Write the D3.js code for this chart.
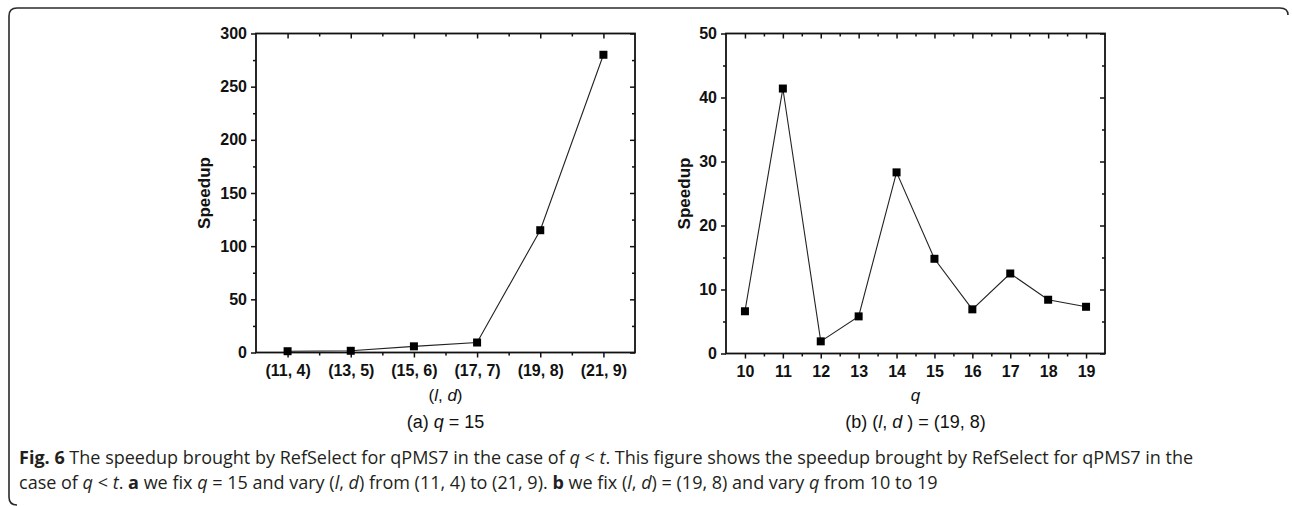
<!DOCTYPE html>
<html lang="en">
<head>
<meta charset="utf-8">
<title>Speedup brought by RefSelect</title>
<script src="https://cdn.jsdelivr.net/npm/d3@7"></script>
<style>
  body { margin: 0; background: #fff; }
  svg text { font-family: "Liberation Sans", Arial, sans-serif; fill: #111; }
  .tick text { font-weight: bold; font-size: 16px; }
  .caption text, text.caption { font-family: "Open Sans", "Noto Sans", sans-serif; fill: #231f20; }
</style>
</head>
<body>
<svg width="1292" height="506"></svg>
<script>
// panel (a): q = 15, vary (l, d)
var labelsA = ["(11, 4)", "(13, 5)", "(15, 6)", "(17, 7)", "(19, 8)", "(21, 9)"];
var speedupA = [1.2, 1.6, 5.8, 9.4, 115, 280];
var yTicksA = [0, 50, 100, 150, 200, 250, 300];

// panel (b): (l, d) = (19, 8), vary q
var qB = [10, 11, 12, 13, 14, 15, 16, 17, 18, 19];
var speedupB = [6.6, 41.4, 1.9, 5.8, 28.3, 14.8, 6.9, 12.5, 8.4, 7.3];
var yTicksB = [0, 10, 20, 30, 40, 50];

var svg = d3.select("svg");

// frame around figure
svg.append("path")
  .attr("d", "M1288,15 Q1288,8 1280,8 L17,8 Q9,8 9,16 L9,497 Q9,505 17,505")
  .attr("fill", "none").attr("stroke", "#2a2a2a").attr("stroke-width", 1.6);

function panel(o) {
  var g = svg.append("g");
  var x = d3.scaleLinear().domain(o.xDomain).range([o.left, o.right]);
  var y = d3.scaleLinear().domain([0, o.yMax]).range([o.bottom, o.top]);
  var minorX = d3.range(o.xDomain[0] + 1, o.xDomain[1], 1);
  var minorY = d3.range(o.yStep / 2, o.yMax, o.yStep);

  // bottom axis
  g.append("g").attr("transform", "translate(0," + o.bottom + ")")
    .call(d3.axisBottom(x).tickValues(o.xVals).tickFormat(function(d, i) { return o.xLabels[i]; })
      .tickSize(5).tickPadding(7));
  g.append("g").attr("transform", "translate(0," + o.bottom + ")")
    .call(d3.axisBottom(x).tickValues(minorX).tickFormat("").tickSize(3));
  // top axis (inward)
  g.append("g").attr("transform", "translate(0," + o.top + ")")
    .call(d3.axisBottom(x).tickValues(o.xVals).tickFormat("").tickSize(5));
  g.append("g").attr("transform", "translate(0," + o.top + ")")
    .call(d3.axisBottom(x).tickValues(minorX).tickFormat("").tickSize(3));
  // left axis
  g.append("g").attr("transform", "translate(" + o.left + ",0)")
    .call(d3.axisLeft(y).tickValues(o.yTicks).tickSize(5).tickPadding(4));
  g.append("g").attr("transform", "translate(" + o.left + ",0)")
    .call(d3.axisLeft(y).tickValues(minorY).tickFormat("").tickSize(3));
  // right axis (inward)
  g.append("g").attr("transform", "translate(" + o.right + ",0)")
    .call(d3.axisLeft(y).tickValues(o.yTicks).tickFormat("").tickSize(5));
  g.append("g").attr("transform", "translate(" + o.right + ",0)")
    .call(d3.axisLeft(y).tickValues(minorY).tickFormat("").tickSize(3));

  g.selectAll(".domain").remove();
  g.selectAll(".tick line").attr("stroke", "#111").attr("stroke-width", 1.5);
  g.selectAll(".tick text").attr("fill", "#111");

  g.append("rect")
    .attr("x", o.left).attr("y", o.top)
    .attr("width", o.right - o.left).attr("height", o.bottom - o.top)
    .attr("fill", "none").attr("stroke", "#111").attr("stroke-width", 1.8);

  var line = d3.line().x(function(d, i) { return x(o.xVals[i]); }).y(function(d) { return y(d); });
  g.append("path").datum(o.values)
    .attr("d", line).attr("fill", "none").attr("stroke", "#222").attr("stroke-width", 1.1);

  g.selectAll("rect.pt").data(o.values).enter().append("rect")
    .attr("class", "pt")
    .attr("x", function(d, i) { return x(o.xVals[i]) - 4; })
    .attr("y", function(d) { return y(d) - 4; })
    .attr("width", 8).attr("height", 8).attr("fill", "#000");

  // y label
  g.append("text")
    .attr("transform", "translate(" + o.yLabelX + "," + (o.top + o.bottom) / 2 + ") rotate(-90)")
    .attr("text-anchor", "middle").attr("font-weight", "bold").attr("font-size", 17)
    .text("Speedup");

  var cx = (o.left + o.right) / 2;
  var xt = g.append("text").attr("x", cx).attr("y", 401)
    .attr("text-anchor", "middle").attr("font-size", 17);
  o.xTitle.forEach(function(p) {
    xt.append("tspan").attr("font-style", p[1] ? "italic" : null).text(p[0]);
  });
  var st = g.append("text").attr("x", cx).attr("y", 428)
    .attr("text-anchor", "middle").attr("font-size", 18);
  o.sub.forEach(function(p) {
    st.append("tspan").attr("font-style", p[1] ? "italic" : null).text(p[0]);
  });
}

panel({
  left: 256, right: 635, top: 33.5, bottom: 352.5,
  xDomain: [0.5, 6.5], xVals: d3.range(1, 7), xLabels: labelsA,
  yMax: 300, yStep: 50, yTicks: yTicksA, values: speedupA, yLabelX: 210,
  xTitle: [["("], ["l", 1], [", "], ["d", 1], [")"]],
  sub: [["(a) "], ["q", 1], [" = 15"]]
});

panel({
  left: 726, right: 1105, top: 33.5, bottom: 353.5,
  xDomain: [9.5, 19.5], xVals: qB, xLabels: qB,
  yMax: 50, yStep: 10, yTicks: yTicksB, values: speedupB, yLabelX: 690,
  xTitle: [["q", 1]],
  sub: [["(b) ("], ["l", 1], [", "], ["d", 1], [" ) = (19, 8)"]]
});

// caption, parts: [text, bold, italic]
var cap1 = [["Fig. 6", 1], [" The speedup brought by RefSelect for qPMS7 in the case of "], ["q", 0, 1], [" < "], ["t", 0, 1],
  [". This figure shows the speedup brought by RefSelect for qPMS7 in the"]];
var cap2 = [["case of "], ["q", 0, 1], [" < "], ["t", 0, 1], [". "], ["a", 1], [" we fix "], ["q", 0, 1],
  [" = 15 and vary ("], ["l", 0, 1], [", "], ["d", 0, 1], [") from (11, 4) to (21, 9). "], ["b", 1], [" we fix ("],
  ["l", 0, 1], [", "], ["d", 0, 1], [") = (19, 8) and vary "], ["q", 0, 1], [" from 10 to 19"]];

var capFont = 16;
function capLine(parts, yy) {
  var t = svg.append("text").attr("class", "caption").attr("x", 19).attr("y", yy).attr("font-size", capFont);
  parts.forEach(function(p) {
    t.append("tspan").attr("font-weight", p[1] ? "bold" : null)
      .attr("font-style", p[2] ? "italic" : null).text(p[0]);
  });
  return t;
}
var l1 = capLine(cap1, 464);
var l2 = capLine(cap2, 489);
// fit first line to the width used in the figure
var w = l1.node().getComputedTextLength();
capFont = capFont * 1175 / w;
l1.attr("font-size", capFont);
l2.attr("font-size", capFont);
</script>
</body>
</html>
